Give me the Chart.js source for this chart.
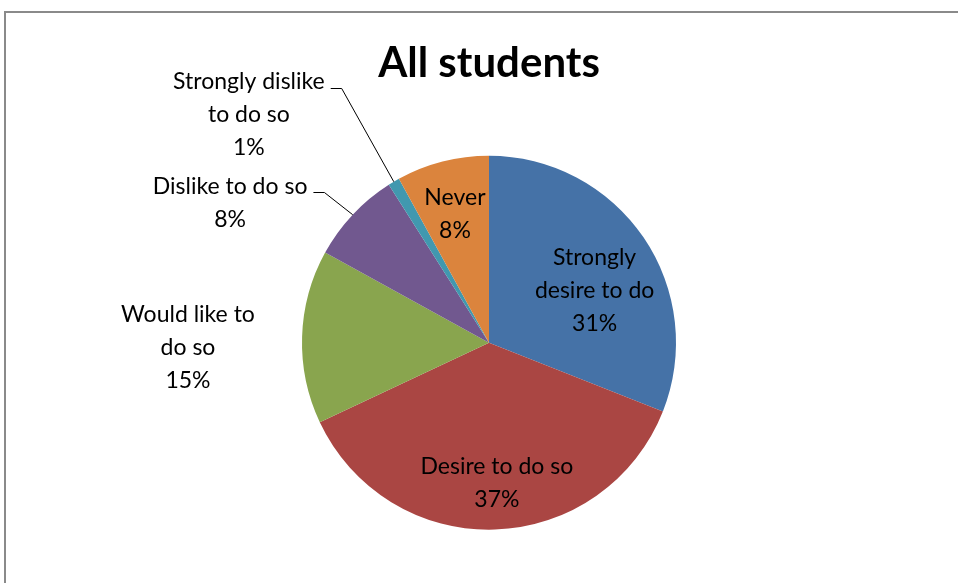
<!DOCTYPE html>
<html>
<head>
<meta charset="utf-8">
<script src="https://cdn.jsdelivr.net/npm/chart.js@4/dist/chart.umd.min.js"></script>
<style>
  html, body { margin: 0; padding: 0; background: #fff; overflow: hidden; }
  #wrap { position: relative; width: 958px; height: 583px; }
  #frame { position: absolute; left: 4px; top: 11px; width: 1000px; height: 700px;
           border: 2px solid #8a8a8a; box-sizing: border-box; }
  #chart { position: absolute; left: 0; top: 0; }
</style>
</head>
<body>
<div id="wrap">
  <div id="frame"></div>
  <canvas id="chart" width="958" height="583"></canvas>
</div>
<script>
const categories = [
    'Strongly desire to do',
    'Desire to do so',
    'Would like to do so',
    'Dislike to do so',
    'Strongly dislike to do so',
    'Never',
];
const values = [31, 37, 15, 8, 1, 8];
// how each category name wraps in its data label
const label_lines = [
    ['Strongly', 'desire to do'],
    ['Desire to do so'],
    ['Would like to', 'do so'],
    ['Dislike to do so'],
    ['Strongly dislike', 'to do so'],
    ['Never'],
];
const colors = ['#4572A7', '#AA4643', '#89A54E', '#71588F', '#4198AF', '#DB843D'];

// label placement: distance as share of the radius, turn in degrees off the slice middle
const label_place = [
    { dist: 0.63, turn: 7.9, leader: false },
    { dist: 0.754, turn: -1.4, leader: false },
    { dist: 1.61, turn: -2.8, leader: false },
    { dist: 1.574, turn: -14.8, leader: true },
    { dist: 1.77, turn: -15.9, leader: true },
    { dist: 0.713, turn: -0.4, leader: false },
];

const line_h = 33;
const label_font = '23px Lato';

const slice_labels = {
    id: 'slice_labels',
    afterDatasetsDraw(chart) {
        const ctx = chart.ctx;
        const meta = chart.getDatasetMeta(0);
        const total = values.reduce((a, b) => a + b, 0);
        ctx.save();
        ctx.font = label_font;
        ctx.fillStyle = '#000';
        ctx.strokeStyle = '#000';
        ctx.lineWidth = 1;
        ctx.textAlign = 'center';
        ctx.textBaseline = 'middle';
        meta.data.forEach((arc, i) => {
            const p = arc.getProps(['x', 'y', 'startAngle', 'endAngle', 'outerRadius'], true);
            const mid = (p.startAngle + p.endAngle) / 2;
            const place = label_place[i];
            const a = mid + place.turn * Math.PI / 180;
            const lx = p.x + Math.cos(a) * p.outerRadius * place.dist;
            const ly = p.y + Math.sin(a) * p.outerRadius * place.dist;
            const lines = label_lines[i].concat([Math.round(values[i] / total * 100) + '%']);
            const top = ly - (lines.length - 1) * line_h / 2;
            lines.forEach((t, k) => ctx.fillText(t, lx, top + k * line_h));
            if (place.leader) {
                // short tick after the first line, then down to the slice edge
                const w = ctx.measureText(lines[0]).width;
                const ex = p.x + Math.cos(mid) * p.outerRadius;
                const ey = p.y + Math.sin(mid) * p.outerRadius;
                const y0 = Math.round(top + 6) + 0.5;
                ctx.beginPath();
                ctx.moveTo(lx + w / 2 + 6, y0);
                ctx.lineTo(lx + w / 2 + 17, y0);
                ctx.lineTo(ex, ey);
                ctx.stroke();
            }
        });
        ctx.restore();
    }
};

const chart = new Chart(document.getElementById('chart'), {
    type: 'pie',
    data: {
        labels: categories,
        datasets: [{
            data: values,
            backgroundColor: colors,
            borderWidth: 0,
        }],
    },
    options: {
        responsive: false,
        animation: false,
        layout: {
            padding: { left: 302, right: 282, top: 0, bottom: 53 }
        },
        plugins: {
            legend: { display: false },
            tooltip: { enabled: false },
            title: {
                display: true,
                text: 'All students',
                color: '#000',
                font: { family: 'Lato', size: 42, weight: 'bold' },
                padding: { top: 38, bottom: 67 },
            },
        },
    },
    plugins: [slice_labels],
});
</script>
</body>
</html>
